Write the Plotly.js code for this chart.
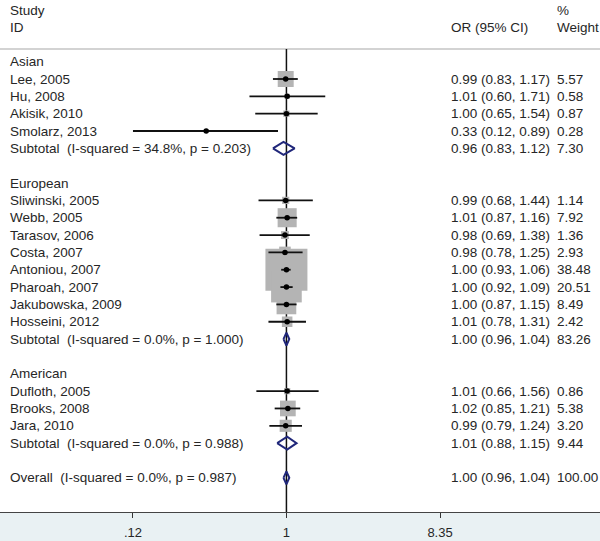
<!DOCTYPE html>
<html><head><meta charset="utf-8">
<script src="https://cdn.plot.ly/plotly-3.0.1.min.js"></script>
<style>html,body{margin:0;padding:0;background:#fff}#chart{width:600px;height:541px}</style>
</head><body><div id="chart"></div>
<script>
// ---- data ----
const groupNames = ["Asian", "European", "American"];
const groupOf = [0,0,0,0, 1,1,1,1,1,1,1,1, 2,2,2];
const studies = ["Lee, 2005","Hu, 2008","Akisik, 2010","Smolarz, 2013",
  "Sliwinski, 2005","Webb, 2005","Tarasov, 2006","Costa, 2007","Antoniou, 2007","Pharoah, 2007","Jakubowska, 2009","Hosseini, 2012",
  "Dufloth, 2005","Brooks, 2008","Jara, 2010"];
const orVals = [0.99,1.01,1.00,0.33, 0.99,1.01,0.98,0.98,1.00,1.00,1.00,1.01, 1.01,1.02,0.99];
const ciLow  = [0.83,0.60,0.65,0.12, 0.68,0.87,0.69,0.78,0.93,0.92,0.87,0.78, 0.66,0.85,0.79];
const ciHigh = [1.17,1.71,1.54,0.89, 1.44,1.16,1.38,1.25,1.06,1.09,1.15,1.31, 1.56,1.21,1.24];
const weights = [5.57,0.58,0.87,0.28, 1.14,7.92,1.36,2.93,38.48,20.51,8.49,2.42, 0.86,5.38,3.20];
const subI2 = ["34.8%", "0.0%", "0.0%"];
const subP = ["0.203", "1.000", "0.988"];
const subOr = [0.96, 1.00, 1.01];
const subLow = [0.83, 0.96, 0.88];
const subHigh = [1.12, 1.04, 1.15];
const subWeight = [7.30, 83.26, 9.44];
const overallI2 = "0.0%";
const overallP = "0.987";
const overallOr = 1.00;
const overallLow = 0.96;
const overallHigh = 1.04;
const overallWeight = 100.00;
const tickVals = [0.12, 1, 8.35];
const tickText = [".12", "1", "8.35"];

// ---- layout of rows ----
const textColor = "#262626";
const fontFam = "Liberation Sans, Arial, sans-serif";
const fs = 13.5;
const NB = "\u00a0";
const fmt = v => v.toFixed(2);
const ciText = (o, l, h) => fmt(o) + " (" + fmt(l) + ", " + fmt(h) + ")";

const annotations = [];
function addText(txt, xp, row, anchor) {
  annotations.push({text: txt, xref: "paper", yref: "y", x: xp, y: row, xanchor: anchor || "left",
    yanchor: "middle", showarrow: false, font: {family: fontFam, size: fs, color: textColor}});
}
const xLab = 8/600, xOr = 449/600, xW = 555/600;

const studyRow = [];
const subRow = [];
let r = 0;
groupNames.forEach((g, gi) => {
  addText(g, xLab, r); r++;
  studies.forEach((s, i) => {
    if (groupOf[i] === gi) { studyRow[i] = r; r++; }
  });
  subRow[gi] = r; r += 2;
});
const overallRow = r;

studies.forEach((s, i) => {
  addText(s, xLab, studyRow[i]);
  addText(ciText(orVals[i], ciLow[i], ciHigh[i]), xOr, studyRow[i]);
  addText(fmt(weights[i]), xW, studyRow[i]);
});
groupNames.forEach((g, gi) => {
  addText("Subtotal" + NB + NB + "(I-squared = " + subI2[gi] + ", p = " + subP[gi] + ")", xLab, subRow[gi]);
  addText(ciText(subOr[gi], subLow[gi], subHigh[gi]), xOr, subRow[gi]);
  addText(fmt(subWeight[gi]), xW, subRow[gi]);
});
addText("Overall" + NB + NB + "(I-squared = " + overallI2 + ", p = " + overallP + ")", xLab, overallRow);
addText(ciText(overallOr, overallLow, overallHigh), xOr, overallRow);
addText(fmt(overallWeight), xW, overallRow);

// headers
addText("Study", xLab, -2.93);
addText("ID", xLab, -1.98);
addText("OR (95% CI)", xOr, -1.98);
addText("%", xW, -2.93);
addText("Weight", xW, -1.98);

// ---- traces ----
const boxK = 6.77;
const boxes = {
  type: "scatter", mode: "markers", x: orVals, y: studyRow, hoverinfo: "skip",
  marker: {symbol: "square", color: "#b4b4b4", opacity: 1, size: weights.map(w => boxK*Math.sqrt(w)), line: {width: 0}}
};
const ciX = [], ciY = [];
studies.forEach((s, i) => { ciX.push(ciLow[i], ciHigh[i], null); ciY.push(studyRow[i], studyRow[i], null); });
const ciLines = {type: "scatter", mode: "lines", x: ciX, y: ciY, hoverinfo: "skip",
  line: {color: "#111", width: 1.8}};
const dots = {type: "scatter", mode: "markers", x: orVals, y: studyRow, hoverinfo: "skip",
  marker: {symbol: "circle", color: "#000", size: 5.5}};

const h = 0.37;
const dX = [], dY = [];
function diamond(o, l, hi, row) {
  dX.push(l, o, hi, o, l, null);
  dY.push(row, row - h, row, row + h, row, null);
}
groupNames.forEach((g, gi) => diamond(subOr[gi], subLow[gi], subHigh[gi], subRow[gi]));
diamond(overallOr, overallLow, overallHigh, overallRow);
const diamonds = {type: "scatter", mode: "lines", x: dX, y: dY, hoverinfo: "skip",
  line: {color: "#20277a", width: 2}};

const topRow = -61.7/17.35;
const botRow = (512.3-61.7)/17.35;
const sepRow = (49 - 61.7)/17.35;

const layout = {
  width: 600, height: 541, autosize: false,
  margin: {l: 0, r: 0, t: 0, b: 29, pad: 0},
  paper_bgcolor: "#e9f1f3", plot_bgcolor: "#ffffff",
  showlegend: false,
  xaxis: {type: "log", range: [Math.log10(0.12) - 133/166.7, Math.log10(8.35) + 160/166.7],
    tickvals: tickVals, ticktext: tickText, ticks: "outside", ticklen: 5, tickwidth: 1, tickcolor: "#333",
    ticklabelstandoff: 3,
    showline: true, linecolor: "#444", linewidth: 1, showgrid: false, zeroline: false,
    tickfont: {family: fontFam, size: 13, color: textColor}, fixedrange: true},
  yaxis: {range: [botRow, topRow], visible: false, showgrid: false, zeroline: false, fixedrange: true},
  shapes: [
    {type: "line", xref: "paper", yref: "y", x0: 0, x1: 1, y0: sepRow, y1: sepRow, line: {color: "#c4c4c4", width: 1.5}, layer: "below"},
    {type: "line", xref: "x", yref: "y", x0: 1, x1: 1, y0: sepRow, y1: botRow, line: {color: "#111", width: 1.5}, layer: "below"}
  ],
  annotations: annotations
};
Plotly.newPlot("chart", [boxes, ciLines, dots, diamonds], layout, {staticPlot: true, displayModeBar: false});
</script>
</body></html>
